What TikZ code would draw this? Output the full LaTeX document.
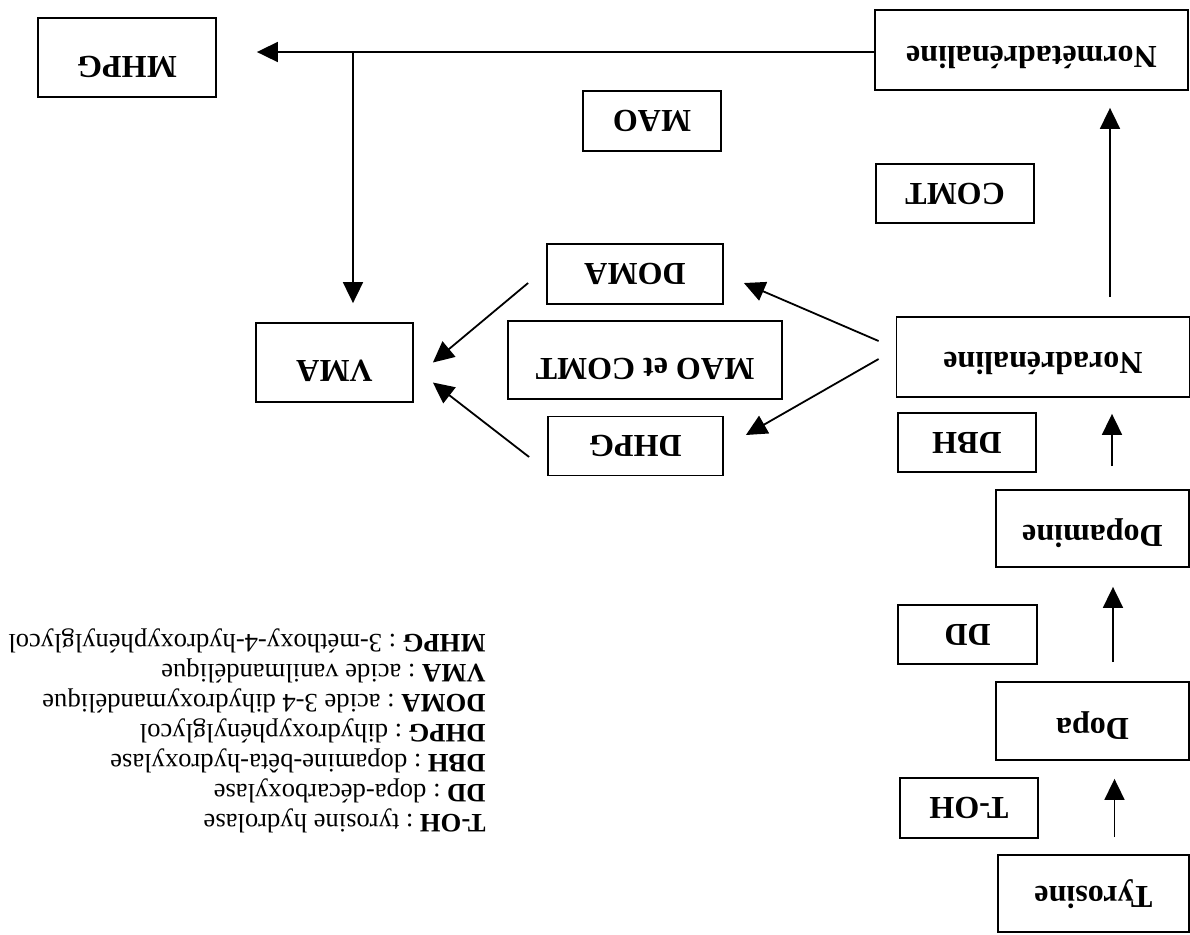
\documentclass[tikz,border=0pt]{standalone}
\usepackage{fontspec}
\usepackage{graphicx}
\setmainfont{Liberation Serif}
\usetikzlibrary{arrows.meta}
\begin{document}
\begin{tikzpicture}[x=0.5pt,y=-0.5pt,
  box/.style={draw, line width=0.9pt, inner sep=0pt, font=\fontsize{16}{18}\selectfont\bfseries},
  % lowers the label inside a box by #1 (in pt)
  drop/.style={text height=8pt, text depth={18.6pt-2*#1}},
  arr/.style={line width=0.9pt, -{Triangle[length=10.5pt,width=10pt]}},
  plain/.style={line width=0.9pt}]
\useasboundingbox (0,0) rectangle (1190,934);

% metabolic chain
\node[box, drop=2,   minimum width=95.5pt, minimum height=38.5pt] (tyr)  at (1093.5,893.5) {\rotatebox{180}{Tyrosine}};
\node[box,           minimum width=69pt,   minimum height=30pt]   (toh)  at (969,808)      {\rotatebox{180}{T-OH}};
\node[box, drop=4,   minimum width=96.5pt, minimum height=39pt]   (dopa) at (1092.5,721)   {\rotatebox{180}{Dopa}};
\node[box,           minimum width=69.5pt, minimum height=29.5pt] (dd)   at (967.5,634.5)  {\rotatebox{180}{DD}};
\node[box, drop=4,   minimum width=96.5pt, minimum height=38.5pt] (dopm) at (1092.5,528.5) {\rotatebox{180}{Dopamine}};
\node[box,           minimum width=69pt,   minimum height=29.5pt] (dbh)  at (967,442.5)    {\rotatebox{180}{DBH}};
\node[box, drop=3,   minimum width=146.5pt,minimum height=40pt]   (nor)  at (1043,357)     {\rotatebox{180}{Noradrénaline}};
\node[box,           minimum width=79pt,   minimum height=29.5pt] (comt) at (955,193.5)    {\rotatebox{180}{COMT}};
\node[box, drop=3.5, minimum width=156.5pt,minimum height=40pt]   (nmet) at (1031.5,50)    {\rotatebox{180}{Normétadrénaline}};
\node[box,           minimum width=69pt,   minimum height=30pt]   (mao)  at (652,121)      {\rotatebox{180}{MAO}};
\node[box, drop=4.75,minimum width=89pt,   minimum height=39.5pt] (mhpg) at (127,57.5)     {\rotatebox{180}{MHPG}};
\node[box,           minimum width=88pt,   minimum height=30pt]   (doma) at (635,274)      {\rotatebox{180}{DOMA}};
\node[box, drop=4.5, minimum width=137pt,  minimum height=39pt]   (mc)   at (645,360)      {\rotatebox{180}{MAO et COMT}};
\node[box,           minimum width=87.5pt, minimum height=29.5pt] (dhpg) at (635.5,446)    {\rotatebox{180}{DHPG}};
\node[box, drop=4.5, minimum width=78.5pt, minimum height=39.5pt] (vma)  at (334.5,362.5)  {\rotatebox{180}{VMA}};

% vertical reactions
\draw[arr, shorten <=8.5pt, shorten >=9pt]
  ([xshift=10.5pt]tyr.north) -- ([xshift=10.5pt]tyr.north |- dopa.south);
\draw[arr, shorten <=9.5pt, shorten >=9.5pt]
  ([xshift=10.25pt]dopa.north) -- ([xshift=10.25pt]dopa.north |- dopm.south);
\draw[arr, shorten <=11.5pt, shorten >=8pt]
  ([xshift=9.75pt]dopm.north) -- ([xshift=9.75pt]dopm.north |- nor.south);
\draw[arr, shorten <=9.5pt, shorten >=8.5pt]
  ([xshift=33.5pt]nor.north) -- ([xshift=33.5pt]nor.north |- nmet.south);

% normetanephrine branch
\draw[arr, shorten >=20pt] ([yshift=-1pt]nmet.west) -- ([yshift=-1pt]nmet.west -| mhpg.east);
\coordinate (br) at (353,52);
\draw[arr, shorten >=9.5pt] (br) -- (br |- vma.north);

% oxidative branch
\draw[arr] ([xshift=-8.5pt,yshift=8pt]nor.west) -- ([xshift=10pt,yshift=-4.5pt]doma.east);
\draw[arr] ([xshift=-8.5pt,yshift=-1pt]nor.west) -- ([xshift=11pt,yshift=5.5pt]dhpg.east);
\draw[arr] ([xshift=-9pt,yshift=-4.5pt]doma.west) -- ([xshift=9.5pt,yshift=0pt]vma.east);
\draw[arr] ([xshift=-9pt,yshift=-5.5pt]dhpg.west) -- ([xshift=9.5pt,yshift=-10pt]vma.east);

% abbreviations
\node[rotate=180, anchor=west, inner sep=0pt, align=left,
      font=\fontsize{13.3}{15}\selectfont] (legend) at (486,731) {%
  \textbf{T-OH} : tyrosine hydrolase\\
  \textbf{DD} : dopa-décarboxylase\\
  \textbf{DBH} : dopamine-bêta-hydroxylase\\
  \textbf{DHPG} : dihydroxyphénylglycol\\
  \textbf{DOMA} : acide 3-4 dihydroxymandélique\\
  \textbf{VMA} : acide vanilmandélique\\
  \textbf{MHPG} : 3-méthoxy-4-hydroxyphénylglycol};
\end{tikzpicture}
\end{document}
